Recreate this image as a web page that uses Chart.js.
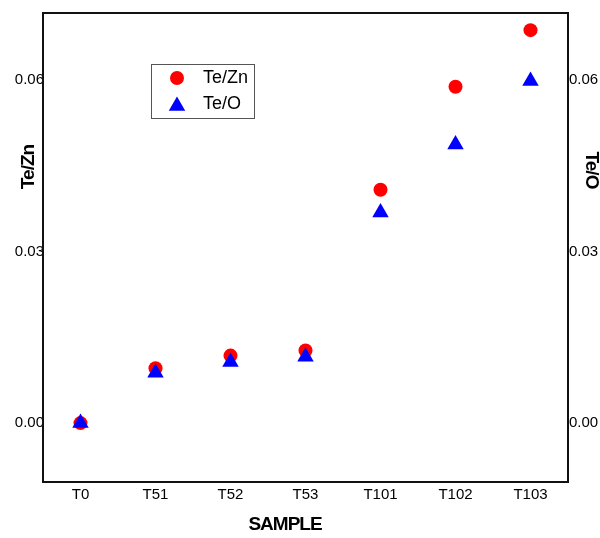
<!DOCTYPE html>
<html>
<head>
<meta charset="utf-8">
<script src="https://cdn.jsdelivr.net/npm/chart.js@4/dist/chart.umd.min.js"></script>
<style>
  html, body { margin: 0; padding: 0; background: #fff; }
  #wrap { width: 600px; height: 538px; position: relative; }
</style>
</head>
<body>
<div id="wrap"><canvas id="c" width="600" height="538"></canvas></div>
<script>
const categories = ['T0', 'T51', 'T52', 'T53', 'T101', 'T102', 'T103'];
const teZn = [0.0, 0.0096, 0.0118, 0.0127, 0.0408, 0.0588, 0.0687];
const teO = [0.0, 0.0088, 0.0107, 0.0116, 0.0368, 0.0487, 0.0598];
const yTicks = [0.0, 0.03, 0.06];
const yTickLabels = ['0.00', '0.03', '0.06'];
const seriesNames = ['Te/Zn', 'Te/O'];
const axisTitles = { x: 'SAMPLE', yLeft: 'Te/Zn', yRight: 'Te/O' };

const FONT = '"Liberation Sans", Arial, sans-serif';

const framePlugin = {
  id: 'frame',
  afterDatasetsDraw(chart) {
    const ctx = chart.ctx;
    const a = chart.chartArea;
    ctx.save();
    // plot frame
    ctx.strokeStyle = '#111';
    ctx.lineWidth = 2;
    ctx.strokeRect(a.left, a.top, a.right - a.left, a.bottom - a.top);

    // legend
    const lx = 151.5, ly = 64.5, lw = 103, lh = 54;
    ctx.lineWidth = 1;
    ctx.strokeStyle = '#555';
    ctx.fillStyle = '#fff';
    ctx.fillRect(lx, ly, lw, lh);
    ctx.strokeRect(lx, ly, lw, lh);
    const ds = chart.data.datasets;
    const rows = [{ y: 78, d: ds[0] }, { y: 104, d: ds[1] }];
    rows.forEach(r => {
      ctx.fillStyle = r.d.pointBackgroundColor;
      ctx.strokeStyle = r.d.pointBorderColor;
      Chart.helpers.drawPoint(ctx, {
        pointStyle: r.d.pointStyle,
        radius: r.d.pointRadius,
        borderWidth: 0,
        rotation: 0
      }, 177, r.y + (r.d.pointStyle === 'triangle' ? 2 : 0));
      ctx.fillStyle = '#000';
      ctx.font = '18px ' + FONT;
      ctx.textAlign = 'left';
      ctx.textBaseline = 'middle';
      ctx.fillText(r.d.label, 203, r.y);
    });

    // axis titles
    ctx.fillStyle = '#000';
    ctx.font = 'bold 19px ' + FONT;
    ctx.textAlign = 'center';
    ctx.textBaseline = 'middle';
    try { ctx.letterSpacing = '-1px'; } catch (e) {}
    ctx.fillText(axisTitles.x, 285, 525);

    ctx.save();
    ctx.translate(29, 167);
    ctx.rotate(-Math.PI / 2);
    ctx.fillText(axisTitles.yLeft, 0, 0);
    ctx.restore();

    ctx.save();
    ctx.translate(591, 170);
    ctx.rotate(Math.PI / 2);
    ctx.fillText(axisTitles.yRight, 0, 0);
    ctx.restore();
    try { ctx.letterSpacing = '0px'; } catch (e) {}
    ctx.restore();
  }
};

const yMin = -0.0103, yMax = 0.0717;

function yScale(position, width, pad) {
  return {
    type: 'linear',
    position: position,
    min: yMin,
    max: yMax,
    grid: { display: false, drawTicks: false },
    border: { display: false },
    afterBuildTicks(s) { s.ticks = yTicks.map(v => ({ value: v })); },
    afterFit(s) { s.width = width; },
    ticks: {
      padding: pad,
      color: '#000',
      font: { family: FONT, size: 15 },
      callback: (v) => {
        const i = yTicks.findIndex(t => Math.abs(t - v) < 1e-9);
        return i >= 0 ? yTickLabels[i] : '';
      }
    }
  };
}

new Chart(document.getElementById('c'), {
  type: 'line',
  data: {
    labels: categories,
    datasets: [
      {
        label: seriesNames[0],
        data: teZn,
        yAxisID: 'y',
        showLine: false,
        pointStyle: 'circle',
        pointRadius: 7,
        pointHoverRadius: 7,
        pointBorderWidth: 0,
        pointBackgroundColor: '#ff0000',
        pointBorderColor: '#ff0000',
        order: 1
      },
      {
        label: seriesNames[1],
        data: teO,
        yAxisID: 'y2',
        showLine: false,
        pointStyle: 'triangle',
        pointRadius: 9.5,
        pointHoverRadius: 9.5,
        pointBorderWidth: 0,
        pointBackgroundColor: '#0000ff',
        pointBorderColor: '#0000ff',
        order: 0
      }
    ]
  },
  options: {
    responsive: false,
    animation: false,
    devicePixelRatio: 1,
    layout: { padding: { top: 13, left: 0, right: 0, bottom: 0 } },
    plugins: {
      legend: { display: false },
      tooltip: { enabled: false }
    },
    scales: {
      x: {
        type: 'category',
        offset: true,
        grid: { display: false, drawTicks: false, offset: true },
        border: { display: false },
        afterFit(s) { s.height = 56; },
        ticks: {
          padding: 4,
          color: '#000',
          maxRotation: 0,
          autoSkip: false,
          font: { family: FONT, size: 15 }
        }
      },
      y: yScale('left', 43, -1),
      y2: yScale('right', 32, 1)
    }
  },
  plugins: [framePlugin]
});
</script>
</body>
</html>
